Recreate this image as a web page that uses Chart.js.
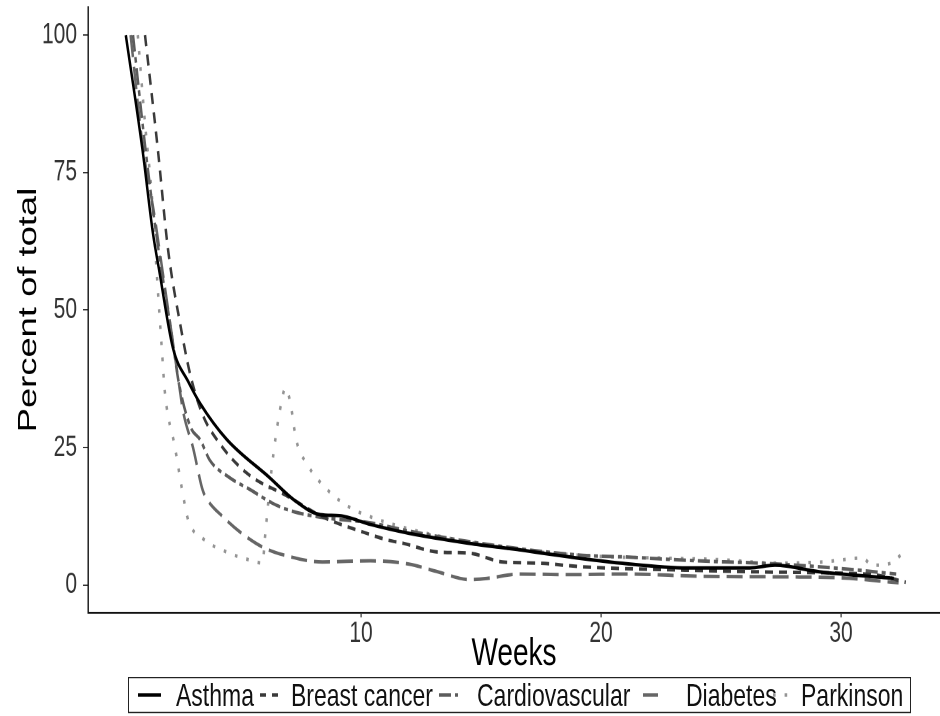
<!DOCTYPE html>
<html lang="en">
<head>
    <meta charset="UTF-8">
    <title>Percent of total by week</title>
    <script src="https://cdn.jsdelivr.net/npm/chart.js"></script>
    <style>
        body {
            margin: 0;
            background: #fff;
            overflow: hidden;
            font-family: "Liberation Sans", Arial, sans-serif;
        }
        /* the original figure is stretched vertically, so the whole chart is drawn flat and scaled */
        #wrap {
            position: absolute;
            left: 0;
            top: 0;
            width: 940px;
            height: 512px;
            transform: scaleY(1.3984);
            transform-origin: 0 0;
        }
        #legend {
            position: absolute;
            left: 128px;
            top: 484px;
            width: 781px;
            height: 24px;
            border: 1px solid #222;
            font-size: 23px;
            color: #111;
            line-height: 24px;
            white-space: nowrap;
        }
        .key, .lab { position: absolute; top: 0; }
    </style>
</head>
<body>

<div id="wrap">
    <canvas id="myChart" width="940" height="512"></canvas>
    <div id="legend"></div>
</div>

<script>
// weeks and percent of total
const asthmaWeeks = [0.2, 0.9, 1.33, 1.6, 2.17, 2.8, 3.3, 4.4, 6.2, 7.2, 8.3, 9.1, 10.4, 12.0, 14.5, 16.6, 18.7, 20.8, 23.6, 26.2, 27.25, 29.1, 32.2];
const asthmaPct   = [100, 79, 64, 57, 43, 37, 33, 26.5, 19.5, 15.5, 12.8, 12.6, 11, 9.4, 7.6, 6.4, 5.1, 4.0, 3.1, 3.1, 3.6, 2.4, 1.2];

const breastWeeks = [1.0, 1.54, 1.96, 2.46, 2.9, 3.4, 4.0, 5.2, 7.0, 8.4, 10.1, 11.1, 11.75, 13.2, 14.5, 15.9, 17.3, 19.25, 20.9, 23.5, 26.5, 29.5, 31.5, 32.7];
const breastPct   = [100, 79, 61, 47.6, 38, 31, 26.4, 20.5, 16, 12.4, 9.6, 8.2, 7.6, 6.0, 5.8, 4.2, 4.0, 3.3, 3.0, 2.7, 2.4, 2.2, 1.8, 0.5];

const cardioWeeks = [0.5, 1.0, 1.4, 1.7, 2.1, 2.4, 2.9, 3.3, 3.7, 4.5, 5.4, 6.3, 7.0, 8.2, 10.4, 12.0, 14.5, 16.6, 19.25, 21.0, 24.0, 27.0, 30.0, 32.3];
const cardioPct   = [100, 80, 66, 57, 46, 37, 28.7, 26.4, 22.7, 19.6, 17.3, 14.9, 13.6, 12.4, 11.3, 9.8, 7.9, 6.6, 5.4, 5.1, 4.4, 3.9, 3.0, 2.0];

const diabetesWeeks = [0.4, 0.9, 1.4, 1.7, 2.1, 2.4, 2.6, 3.0, 3.4, 3.6, 4.25, 5.0, 5.9, 6.75, 8.4, 10.4, 12.0, 13.2, 14.5, 15.25, 16.6, 18.7, 21.2, 24.0, 27.0, 30.0, 32.4];
const diabetesPct   = [100, 80, 67, 58, 46, 37, 31.3, 25, 17.3, 15.5, 12.4, 9.5, 6.9, 5.5, 4.2, 4.4, 3.8, 2.4, 1.0, 1.2, 2.0, 1.9, 2.0, 1.6, 1.5, 1.3, 0.4];

const parkinsonWeeks = [0.7, 1.0, 1.3, 1.5, 1.7, 1.83, 2.25, 2.6, 2.8, 3.4, 4.4, 5.4, 5.9, 6.0, 6.3, 6.7, 6.85, 7.05, 7.3, 7.75, 8.6, 9.5, 10.4, 12.0, 14.5, 17.0, 20.0, 22.5, 25.0, 27.2, 29.25, 30.9, 31.3, 32.1, 32.5];
const parkinsonPct   = [100, 84, 70, 56, 43, 35, 25, 16, 11.8, 8.5, 6.0, 4.5, 4.0, 8.7, 22, 33.6, 35.8, 33.3, 26.4, 22, 17.3, 14.2, 12.4, 10.2, 7.8, 6.2, 5.2, 4.9, 4.6, 4.0, 4.2, 4.9, 3.6, 4.0, 5.5];

const seriesNames = ['Asthma', 'Breast cancer', 'Cardiovascular', 'Diabetes', 'Parkinson'];
const xTickValues = [10, 20, 30];
const yTickValues = [0, 25, 50, 75, 100];

const lineStyles = [
    { color: '#000000', dash: [],            legendDash: '' },
    { color: '#3a3a3a', dash: [8, 6],        legendDash: '6 6' },
    { color: '#5c5c5c', dash: [12, 4, 4, 4], legendDash: '12 4 3 6' },
    { color: '#666666', dash: [16, 7],       legendDash: '15 10' },
    { color: '#949494', dash: [2.6, 9],      legendDash: '2.6 9' }
];

// legend key / label offsets inside the legend box
const keyLeft = [9, 131, 310, 514, 644];
const labelLeft = [47, 162, 348, 557, 672];

function toPoints(xs, ys) {
    return xs.map((x, i) => ({ x: x, y: ys[i] }));
}

const allSeries = [
    toPoints(asthmaWeeks, asthmaPct),
    toPoints(breastWeeks, breastPct),
    toPoints(cardioWeeks, cardioPct),
    toPoints(diabetesWeeks, diabetesPct),
    toPoints(parkinsonWeeks, parkinsonPct)
];

const datasets = allSeries.map((pts, i) => ({
    label: seriesNames[i],
    data: pts,
    borderColor: lineStyles[i].color,
    backgroundColor: lineStyles[i].color,
    borderDash: lineStyles[i].dash,
    borderWidth: 2.5,
    borderCapStyle: 'butt',
    borderJoinStyle: 'round',
    pointRadius: 0,
    cubicInterpolationMode: 'monotone',
    fill: false
}));

const tickFont = { family: '"Liberation Sans", Arial', size: 21, lineHeight: 1 };
const titleFont = { family: '"Liberation Sans", Arial', size: 28, lineHeight: 1 };
const yTitleFont = { family: '"Liberation Sans", Arial', size: 26, lineHeight: 1 };

new Chart(document.getElementById('myChart'), {
    type: 'line',
    data: { datasets: datasets },
    options: {
        responsive: false,
        animation: false,
        devicePixelRatio: 2,
        layout: { padding: { top: 5.4, right: 0, bottom: 30, left: 0 } },
        plugins: {
            legend: { display: false },
            tooltip: { enabled: false }
        },
        scales: {
            x: {
                type: 'linear',
                min: -1.375,
                max: 34.125,
                afterBuildTicks: s => { s.ticks = xTickValues.map(v => ({ value: v })); },
                afterFit: s => { s.height = 44; s.paddingLeft = 0; s.paddingRight = 0; },
                grid: { drawOnChartArea: false, drawTicks: true, tickLength: 3.5, color: '#333', lineWidth: 1.2 },
                border: { display: true, color: '#111', width: 1.4 },
                ticks: { font: tickFont, color: '#333', padding: 1, maxRotation: 0 },
                title: { display: true, text: 'Weeks', font: titleFont, color: '#000', padding: 0 }
            },
            y: {
                type: 'linear',
                min: -5,
                max: 105,
                afterBuildTicks: s => { s.ticks = yTickValues.map(v => ({ value: v })); },
                afterFit: s => { s.width = 88; s.paddingTop = 0; s.paddingBottom = 0; },
                grid: { drawOnChartArea: false, drawTicks: true, tickLength: 5, color: '#333', lineWidth: 1 },
                border: { display: true, color: '#111', width: 1.4 },
                ticks: { font: tickFont, color: '#333', padding: 6 },
                title: { display: true, text: 'Percent of total', font: yTitleFont, color: '#000', padding: { top: 16, bottom: 0 } }
            }
        }
    }
});

// legend box under the plot
const legend = document.getElementById('legend');
seriesNames.forEach((name, i) => {
    const st = lineStyles[i];
    const key = document.createElement('div');
    key.className = 'key';
    key.style.left = keyLeft[i] + 'px';
    key.innerHTML = '<svg width="23" height="24"><line x1="0" y1="12" x2="23" y2="12" stroke="' + st.color +
        '" stroke-width="2.6" stroke-dasharray="' + st.legendDash + '"/></svg>';
    const lab = document.createElement('span');
    lab.className = 'lab';
    lab.style.left = labelLeft[i] + 'px';
    lab.textContent = name;
    legend.appendChild(key);
    legend.appendChild(lab);
});
</script>

</body>
</html>
